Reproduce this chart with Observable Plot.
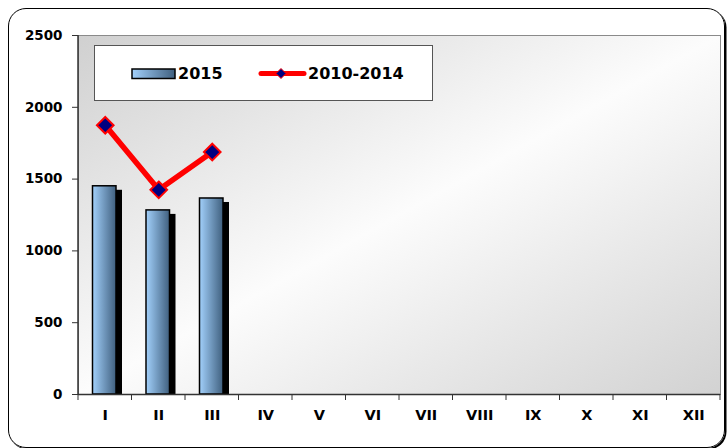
<!DOCTYPE html>
<html><head><meta charset="utf-8">
<script src="https://cdn.jsdelivr.net/npm/d3@7"></script>
<script src="https://cdn.jsdelivr.net/npm/@observablehq/plot@0.6"></script>
<style>
body{margin:0;background:#fff;}
#wrap{position:relative;width:727px;height:448px;overflow:hidden;font-family:"DejaVu Sans",sans-serif;}
#border{position:absolute;left:8px;top:8px;width:717px;height:440px;border:1.5px solid #000;border-radius:18px;box-shadow:1.5px 1.5px 0 #000;pointer-events:none;box-sizing:border-box}
#leg{position:absolute;left:0;top:0;pointer-events:none}
</style></head>
<body>
<div id="wrap"><div id="border"></div></div>
<script>
const months = ["I","II","III","IV","V","VI","VII","VIII","IX","X","XI","XII"];
const values2015 = [1450, 1282, 1365];
const values2010_2014 = [1875, 1425, 1688];
const yTicks = [0, 500, 1000, 1500, 2000, 2500];
const seriesNames = ["2015", "2010-2014"];

const bars = values2015.map((v, i) => ({month: months[i], value: v}));
const avg = values2010_2014.map((v, i) => ({month: months[i], value: v}));

const chart = Plot.plot({
  width: 727, height: 448,
  marginLeft: 78, marginRight: 7, marginTop: 35, marginBottom: 54,
  style: {fontFamily: "DejaVu Sans", fontWeight: "bold", color: "#000", background: "transparent"},
  x: {domain: months, padding: 0, round: false},
  y: {domain: [0, 2500]},
  marks: [
    Plot.frame({fill: "url(#plotBg)", stroke: "#8a8a8a"}),
    Plot.barY(bars, {x: "month", y: "value", fill: "#000", dx: 6, dy: 4, insetLeft: 14.5, insetRight: 15.5, clip: true}),
    Plot.barY(bars, {x: "month", y: "value", fill: "url(#barGrad)", stroke: "#000", strokeWidth: 1.5, insetLeft: 14.5, insetRight: 15.5}),
    Plot.ruleY([0], {stroke: "#333", strokeWidth: 1.5}),
    Plot.axisY({ticks: yTicks, tickFormat: "d", tickSize: 6, tickPadding: 10, fontSize: 13.5, fontWeight: "bold", label: null, stroke: "#333"}),
    Plot.axisX({tickSize: 0, tickPadding: 15, fontSize: 14.5, fontWeight: "bold", label: null}),
    Plot.line(avg, {x: "month", y: "value", stroke: "#ff0000", strokeWidth: 5.5}),
    Plot.dot(avg, {x: "month", y: "value", symbol: "diamond2", r: 7.5, fill: "#000080", stroke: "#ff0000", strokeWidth: 2})
  ]
});

const svg = d3.select(chart);
const defs = svg.insert("defs", ":first-child");
const bg = defs.append("linearGradient").attr("id", "plotBg").attr("x1", 0).attr("y1", 0).attr("x2", 1).attr("y2", 1);
bg.append("stop").attr("offset", 0).attr("stop-color", "#d0d0d0");
bg.append("stop").attr("offset", 0.5).attr("stop-color", "#fcfcfc");
bg.append("stop").attr("offset", 1).attr("stop-color", "#d2d2d2");
const bgr = defs.append("linearGradient").attr("id", "barGrad").attr("x1", 0).attr("y1", 0).attr("x2", 1).attr("y2", 0);
bgr.append("stop").attr("offset", 0).attr("stop-color", "#a2d0fb");
bgr.append("stop").attr("offset", 1).attr("stop-color", "#40607f");

// axis lines and boundary ticks via the scales
const xs = chart.scale("x"), ys = chart.scale("y");
const x0 = xs.range[0];
const yb = ys.apply(0), yt = ys.apply(2500);
const g = svg.append("g").attr("stroke", "#333");
g.append("line").attr("x1", x0).attr("x2", x0).attr("y1", yt).attr("y2", yb).attr("stroke-width", 1.5);
const bounds = months.map(m => xs.apply(m)).concat([xs.apply(months[months.length - 1]) + xs.bandwidth]);
g.selectAll("line.t").data(bounds).join("line").attr("class", "t")
  .attr("x1", d => d).attr("x2", d => d).attr("y1", yb).attr("y2", yb + 6);

document.getElementById("wrap").prepend(chart);

// legend inside plot
const leg = d3.select("#wrap").append("svg").attr("id", "leg").attr("width", 727).attr("height", 448);
const ld = leg.append("defs");
const lg = ld.append("linearGradient").attr("id", "barGradL").attr("x1", 0).attr("y1", 0).attr("x2", 1).attr("y2", 0);
lg.append("stop").attr("offset", 0).attr("stop-color", "#a2d0fb");
lg.append("stop").attr("offset", 1).attr("stop-color", "#40607f");
leg.append("rect").attr("x", 94.5).attr("y", 45.5).attr("width", 338).attr("height", 55).attr("fill", "#fff").attr("stroke", "#555");
leg.append("rect").attr("x", 132).attr("y", 69).attr("width", 43).attr("height", 9.5).attr("fill", "url(#barGradL)").attr("stroke", "#000").attr("stroke-width", 1.5);
leg.append("line").attr("x1", 261).attr("x2", 304).attr("y1", 73.5).attr("y2", 73.5).attr("stroke", "#ff0000").attr("stroke-width", 5).attr("stroke-linecap", "round");
leg.append("path").attr("d", "M281,68.5L286,73.5L281,78.5L276,73.5Z").attr("fill", "#000080").attr("stroke", "#ff0000").attr("stroke-width", 1);
leg.selectAll("text").data(seriesNames).join("text")
  .attr("x", (d, i) => i === 0 ? 178 : 308).attr("y", 78.5)
  .attr("font-family", "DejaVu Sans").attr("font-weight", "bold").attr("font-size", 16).attr("fill", "#000")
  .text(d => d);
</script>
</body></html>
